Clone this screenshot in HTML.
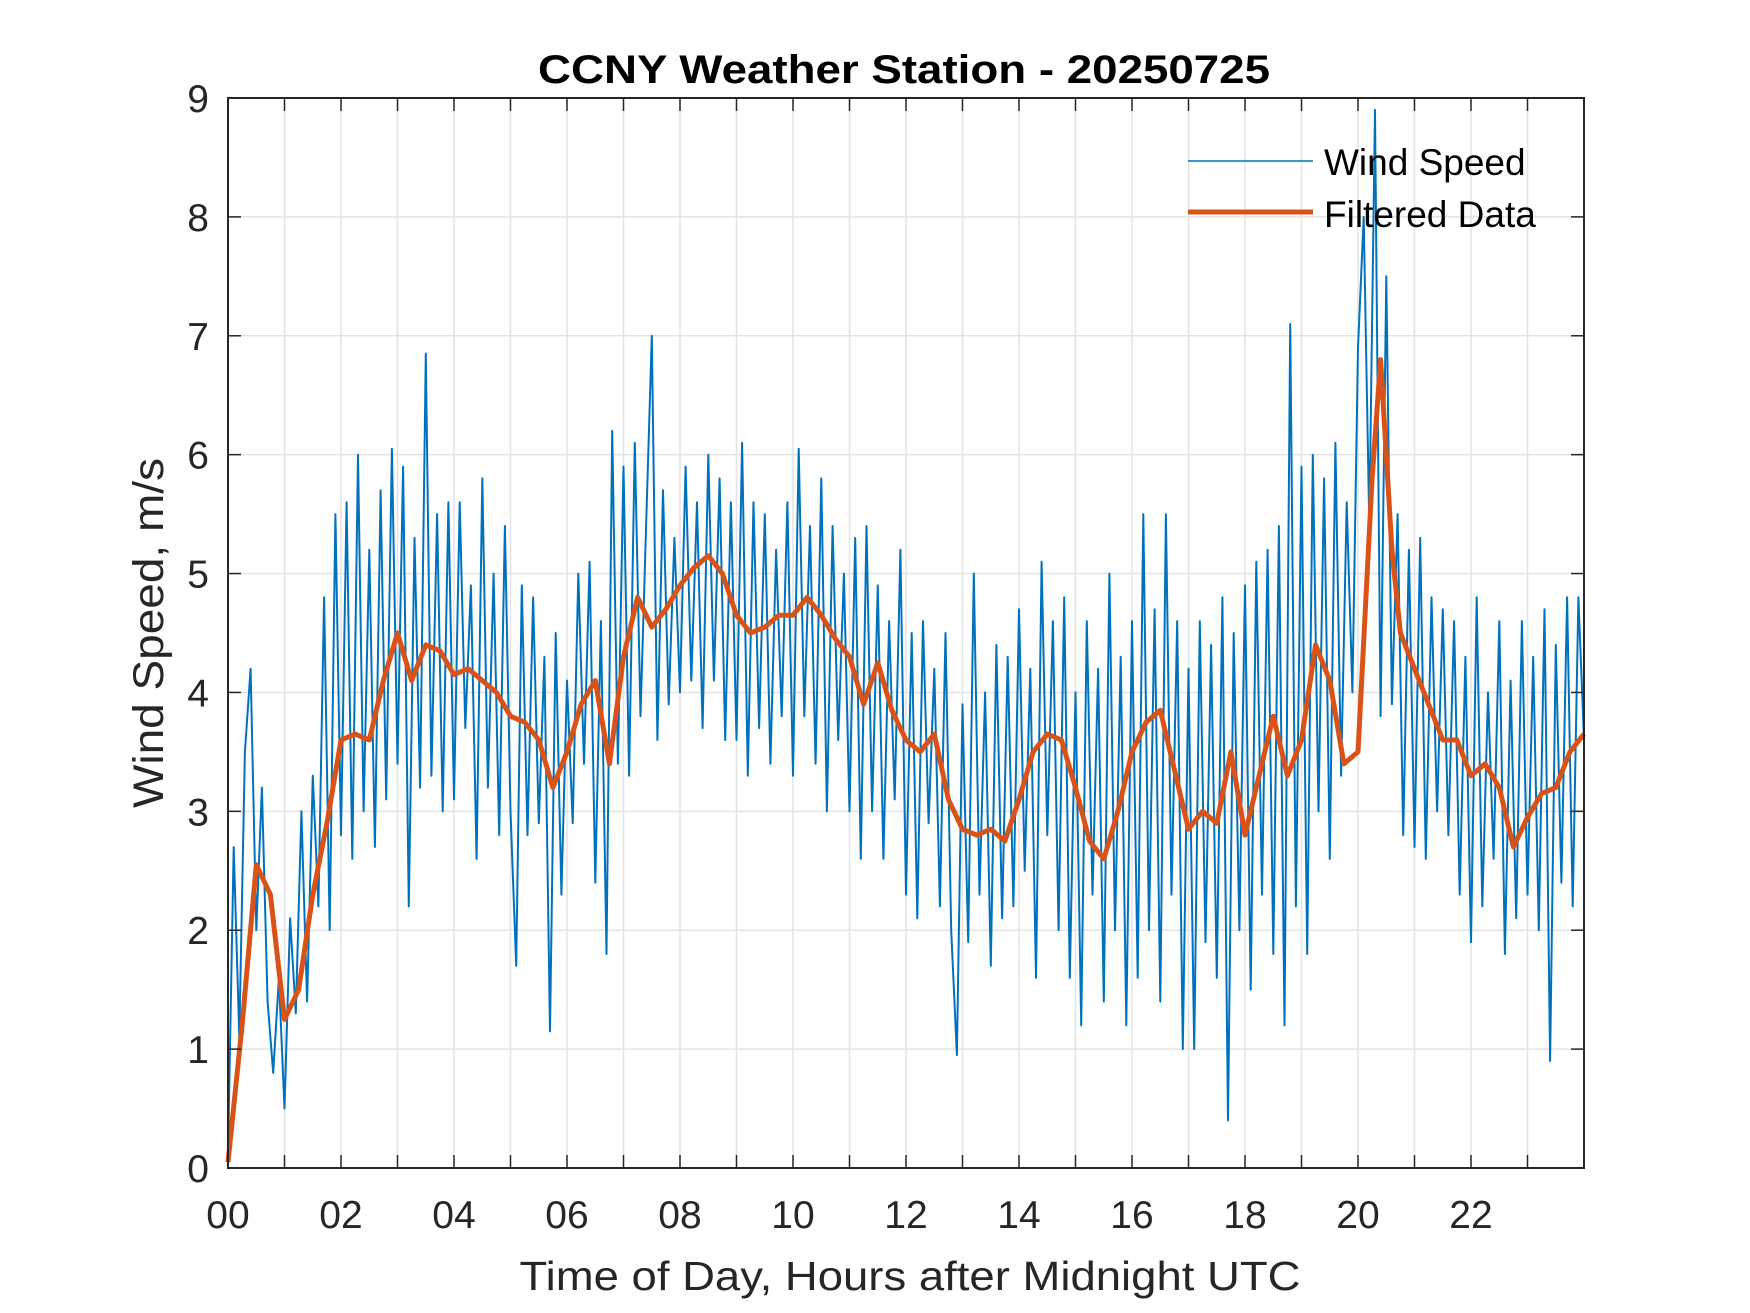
<!DOCTYPE html>
<html><head><meta charset="utf-8"><style>
html,body{margin:0;padding:0;background:#fff}
svg{display:block}
text{font-family:"Liberation Sans",Arial,sans-serif;fill:#262626}
</style></head><body>
<svg id="chart" width="1750" height="1313" viewBox="0 0 1750 1313" xmlns="http://www.w3.org/2000/svg">
<rect width="1750" height="1313" fill="#fff"/>
<g id="grid"></g>
<g id="series"></g>
<g id="axes"></g>
<text x="904" y="83" text-anchor="middle" font-size="40" font-weight="bold" style="fill:#000" textLength="732" lengthAdjust="spacingAndGlyphs">CCNY Weather Station - 20250725</text>
<text x="910" y="1290" text-anchor="middle" font-size="41" textLength="781" lengthAdjust="spacingAndGlyphs">Time of Day, Hours after Midnight UTC</text>
<text transform="translate(163,633) rotate(-90)" text-anchor="middle" font-size="43" textLength="350" lengthAdjust="spacingAndGlyphs">Wind Speed, m/s</text>
<g>
<line x1="1188" y1="161" x2="1313" y2="161" stroke="#0072BD" stroke-width="1.6"/>
<text x="1324" y="175" font-size="37" style="fill:#000">Wind Speed</text>
<line x1="1188" y1="212" x2="1313" y2="212" stroke="#D95319" stroke-width="5"/>
<text x="1324" y="227" font-size="37" style="fill:#000">Filtered Data</text>
</g>
</svg>
<script>
const windStartHour = 0;
const windStepHours = 0.1;
const windSpeed = [
0.1,2.7,1.1,3.5,4.2,2.0,3.2,1.4,0.8,1.6,
0.5,2.1,1.3,3.0,1.4,3.3,2.2,4.8,2.0,5.5,
2.8,5.6,2.6,6.0,3.0,5.2,2.7,5.7,3.1,6.05,
3.4,5.9,2.2,5.3,3.2,6.85,3.3,5.5,3.0,5.6,
3.1,5.6,3.7,4.9,2.6,5.8,3.2,5.0,2.8,5.4,
3.0,1.7,4.9,2.8,4.8,2.9,4.3,1.15,4.5,2.3,
4.1,2.9,5.0,3.4,5.1,2.4,4.6,1.8,6.2,3.4,
5.9,3.3,6.1,3.8,5.4,7.0,3.6,5.7,3.9,5.3,
4.0,5.9,4.1,5.6,3.7,6.0,4.1,5.8,3.6,5.6,
3.6,6.1,3.3,5.6,3.7,5.5,3.4,5.2,3.8,5.6,
3.3,6.05,3.8,5.4,3.4,5.8,3.0,5.4,3.6,5.0,
3.0,5.3,2.6,5.4,3.0,4.9,2.6,4.6,3.1,5.2,
2.3,4.5,2.1,4.6,2.9,4.2,2.2,4.5,2.0,0.95,
3.9,1.9,5.0,2.3,4.0,1.7,4.4,2.1,4.3,2.2,
4.7,2.5,4.2,1.6,5.1,2.8,4.6,2.0,4.8,1.6,
4.0,1.2,4.6,2.3,4.2,1.4,5.0,2.0,4.3,1.2,
4.6,1.6,5.5,2.0,4.7,1.4,5.5,2.3,4.6,1.0,
4.2,1.0,4.6,1.9,4.4,1.6,4.8,0.4,4.5,2.0,
4.9,1.5,5.1,2.3,5.2,1.8,5.4,1.2,7.1,2.2,
5.9,1.8,6.0,3.0,5.8,2.6,6.1,3.3,5.6,4.0,
6.9,8.0,5.4,8.9,3.8,7.5,3.9,5.5,2.8,5.2,
2.7,5.3,2.6,4.8,3.0,4.7,2.8,4.6,2.3,4.3,
1.9,4.8,2.2,4.0,2.6,4.6,1.8,4.1,2.1,4.6,
2.3,4.3,2.0,4.7,0.9,4.4,2.4,4.8,2.2,4.8,
3.6];
const filteredHours = [0,0.25,0.5,0.75,1,1.25,1.5,1.75,2,2.25,2.5,2.75,3,3.25,3.5,3.75,4,4.25,4.5,4.75,5,5.25,5.5,5.75,6,6.25,6.5,6.75,7,7.25,7.5,7.75,8,8.25,8.5,8.75,9,9.25,9.5,9.75,10,10.25,10.5,10.75,11,11.25,11.5,11.75,12,12.25,12.5,12.75,13,13.25,13.5,13.75,14,14.25,14.5,14.75,15,15.25,15.5,15.75,16,16.25,16.5,16.75,17,17.25,17.5,17.75,18,18.25,18.5,18.75,19,19.25,19.5,19.75,20,20.25,20.4,20.6,20.75,21,21.25,21.5,21.75,22,22.25,22.5,22.75,23,23.25,23.5,23.75,24];
const filteredValues = [0.05,1.2,2.55,2.3,1.25,1.5,2.3,2.9,3.6,3.65,3.6,4.1,4.5,4.1,4.4,4.35,4.15,4.2,4.1,4.0,3.8,3.75,3.6,3.2,3.5,3.9,4.1,3.4,4.3,4.8,4.55,4.7,4.9,5.05,5.15,5.0,4.65,4.5,4.55,4.65,4.65,4.8,4.65,4.45,4.3,3.9,4.25,3.85,3.6,3.5,3.65,3.1,2.85,2.8,2.85,2.75,3.1,3.5,3.65,3.6,3.2,2.75,2.6,3.0,3.5,3.75,3.85,3.35,2.85,3.0,2.9,3.5,2.8,3.3,3.8,3.3,3.6,4.4,4.1,3.4,3.5,5.8,6.8,5.2,4.5,4.2,3.9,3.6,3.6,3.3,3.4,3.2,2.7,2.95,3.15,3.2,3.5,3.65];
const xTicks = [0,2,4,6,8,10,12,14,16,18,20,22];
const xTickLabels = ["00","02","04","06","08","10","12","14","16","18","20","22"];
const yTicks = [0,1,2,3,4,5,6,7,8,9];

const L=228,R=1584,T=98,B=1168,X0=0,X1=24,Y0=0,Y1=9;
const sx=h=>L+(h-X0)/(X1-X0)*(R-L);
const sy=v=>B-(v-Y0)/(Y1-Y0)*(B-T);
const NS="http://www.w3.org/2000/svg";
function mk(tag,attrs,parent){const e=document.createElementNS(NS,tag);for(const k in attrs)e.setAttribute(k,attrs[k]);parent.appendChild(e);return e;}
const grid=document.getElementById('grid'),series=document.getElementById('series'),axes=document.getElementById('axes');
for(let h=0;h<=24;h++){
  const g=mk('line',{x1:sx(h),x2:sx(h),y1:T,y2:B,stroke:'#e3e3e3','stroke-width':1.5},grid);
  
  
  if(h>0&&h<24){
    const t1=mk('line',{x1:sx(h),x2:sx(h),y1:B,y2:B-13,stroke:'#262626','stroke-width':1.5},axes);
    
    
    const t2=mk('line',{x1:sx(h),x2:sx(h),y1:T,y2:T+13,stroke:'#262626','stroke-width':1.5},axes);
    
    
  }
}
yTicks.forEach(v=>{
  const g=mk('line',{x1:L,x2:R,y1:sy(v),y2:sy(v),stroke:'#e3e3e3','stroke-width':1.5},grid);
  
  
  const t1=mk('line',{x1:L,x2:L+13,y1:sy(v),y2:sy(v),stroke:'#262626','stroke-width':1.5},axes);
  
  
  const t2=mk('line',{x1:R,x2:R-13,y1:sy(v),y2:sy(v),stroke:'#262626','stroke-width':1.5},axes);
  
  
  const tx=mk('text',{x:209,y:sy(v)+14,'text-anchor':'end','font-size':39},axes);
  tx.textContent=String(v);
  
  
});
xTicks.forEach((h,i)=>{
  const tx=mk('text',{x:sx(h),y:1228,'text-anchor':'middle','font-size':39},axes);
  tx.textContent=xTickLabels[i];
  
  
});
const box=mk('rect',{x:L,y:T,width:R-L,height:B-T,fill:'none',stroke:'#262626','stroke-width':2},axes);


const wp=windSpeed.map((v,i)=>sx(windStartHour+i*windStepHours).toFixed(1)+','+sy(v).toFixed(1)).join(' ');
const wl=mk('polyline',{points:wp,fill:'none',stroke:'#0072BD','stroke-width':2,'stroke-linejoin':'round'},series);


const fp=filteredValues.map((v,i)=>sx(filteredHours[i]).toFixed(1)+','+sy(v).toFixed(1)).join(' ');
const fl=mk('polyline',{points:fp,fill:'none',stroke:'#D95319','stroke-width':5,'stroke-linejoin':'round'},series);


</script>
</body></html>
